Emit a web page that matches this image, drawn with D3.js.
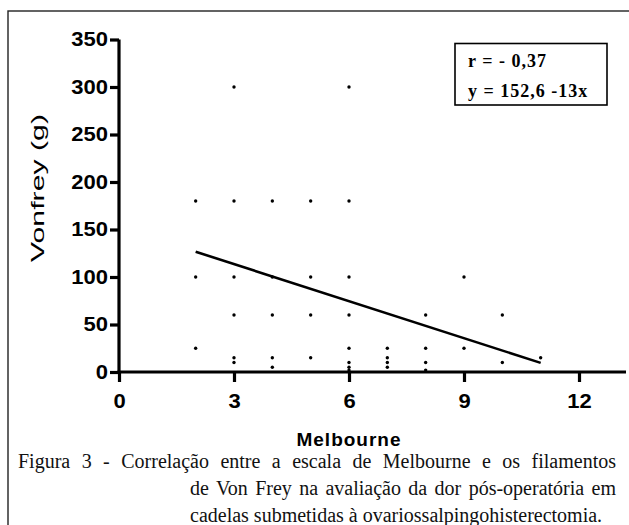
<!DOCTYPE html>
<html>
<head>
<meta charset="utf-8">
<script src="https://cdn.jsdelivr.net/npm/d3@7"></script>
<style>
  html, body { margin: 0; padding: 0; background: #fff; }
  svg { display: block; }
</style>
</head>
<body>
<svg id="chart" width="629" height="525"></svg>
<script>
// ---- data ----
const melbourne = [2,2,2, 3,3,3,3,3,3, 4,4,4,4,4, 5,5,5,5, 6,6,6,6,6,6,6,6, 7,7,7,7, 8,8,8,8, 9,9, 10,10, 11];
const vonfrey   = [180,100,25, 300,180,100,60,15,10, 180,100,60,15,5, 180,100,60,15, 300,180,100,60,25,10,5,2, 25,15,10,5, 60,25,10,2, 100,25, 60,10, 15];
const fitX = [2, 11];
const fitY = [126.6, 9.6];
const xTicks = [0, 3, 6, 9, 12];
const yTicks = [0, 50, 100, 150, 200, 250, 300, 350];
const legendLines = ["r = - 0,37", "y = 152,6 -13x"];
const xTitle = "Melbourne";
const yTitle = "Vonfrey (g)";
const captionLines = [
  "Figura 3 - Correlação entre a escala de Melbourne e os filamentos",
  "de Von Frey na avaliação da dor pós-operatória em",
  "cadelas submetidas à ovariossalpingohisterectomia."
];

// ---- layout ----
const svg = d3.select("#chart");
const x0 = 119, yBase = 372;
const x = d3.scaleLinear().domain([0, 12]).range([x0, 579]);
const y = d3.scaleLinear().domain([0, 350]).range([yBase, 39.5]);
const axisFont = "'Liberation Sans', Arial, sans-serif";
const serif = "'Liberation Serif', 'Times New Roman', serif";

// outer frame (cut at right/bottom)
svg.append("rect").attr("x", 8).attr("y", 11).attr("width", 640).attr("height", 540)
  .attr("fill", "none").attr("stroke", "#222").attr("stroke-width", 1.4);

// axes
const tickScale = 1.1;
const yAxis = svg.append("g").attr("transform", `translate(${x0},0)`)
  .call(d3.axisLeft(y).tickValues(yTicks).tickSize(9).tickPadding(2).tickSizeOuter(0));
const xAxis = svg.append("g").attr("transform", `translate(0,${yBase})`)
  .call(d3.axisBottom(x).tickValues(xTicks).tickSize(10).tickPadding(12).tickSizeOuter(0));

[yAxis, xAxis].forEach(g => {
  g.select(".domain").attr("stroke", "#000").attr("stroke-width", 3.2);
  g.selectAll(".tick line").attr("stroke", "#000").attr("stroke-width", 3.2);
  g.selectAll(".tick text").attr("fill", "#000")
    .style("font-family", axisFont).style("font-weight", "bold").style("font-size", "20px");
});
yAxis.selectAll(".tick text").attr("x", -11 / tickScale).attr("transform", `scale(${tickScale},1)`);
xAxis.selectAll(".tick text").attr("transform", `scale(${tickScale},1)`);

xAxis.select(".domain").attr("d", `M${x0 - 1.5},0H626`);
yAxis.select(".domain").attr("d", `M0,${y(350)}V${yBase + 1.5}`);

// regression line
svg.append("line")
  .attr("x1", x(fitX[0])).attr("y1", y(fitY[0]))
  .attr("x2", x(fitX[1])).attr("y2", y(fitY[1]))
  .attr("stroke", "#000").attr("stroke-width", 2.6);

// points
svg.append("g").selectAll("circle")
  .data(d3.range(melbourne.length))
  .join("circle")
  .attr("cx", i => x(melbourne[i]))
  .attr("cy", i => y(vonfrey[i]))
  .attr("r", 1.7)
  .attr("fill", "#000");

// legend box
svg.append("rect").attr("x", 455).attr("y", 43.5).attr("width", 152).attr("height", 61.5)
  .attr("fill", "#fff").attr("stroke", "#000").attr("stroke-width", 1.6);
svg.append("g").selectAll("text").data(legendLines).join("text")
  .attr("x", 468).attr("y", (d, i) => 67 + i * 30)
  .style("font-family", serif)
  .style("font-weight", "bold").style("font-size", "18px")
  .style("letter-spacing", "1px")
  .text(d => d);

// axis titles
svg.append("text")
  .attr("x", x(6)).attr("y", 446)
  .attr("text-anchor", "middle")
  .style("font-family", axisFont).style("font-weight", "bold").style("font-size", "19px")
  .style("letter-spacing", "1px")
  .text(xTitle);
const yt = svg.append("text")
  .attr("text-anchor", "middle")
  .style("font-family", axisFont).style("font-size", "19px")
  .text(yTitle);
const ytw = yt.node().getComputedTextLength();
yt.attr("transform", `translate(44,188) rotate(-90) scale(${148 / ytw},1)`);

// caption: justified paragraph with hanging indent, last line natural
const capSize = 20;
const capSpec = [
  { x: 18, y: 468, right: 616, justify: true },
  { x: 190, y: 495, right: 616, justify: true },
  { x: 190, y: 522, right: null, justify: false }
];
captionLines.forEach((line, i) => {
  const s = capSpec[i];
  const t = svg.append("text").attr("x", s.x).attr("y", s.y)
    .style("font-family", serif).style("font-size", capSize + "px").attr("fill", "#111")
    .text(line);
  if (s.justify) {
    const natural = t.node().getComputedTextLength();
    const spaces = (line.match(/ /g) || []).length;
    const ws = Math.max(0, (s.right - s.x - natural) / spaces);
    t.style("word-spacing", ws + "px");
  }
});
</script>
</body>
</html>
